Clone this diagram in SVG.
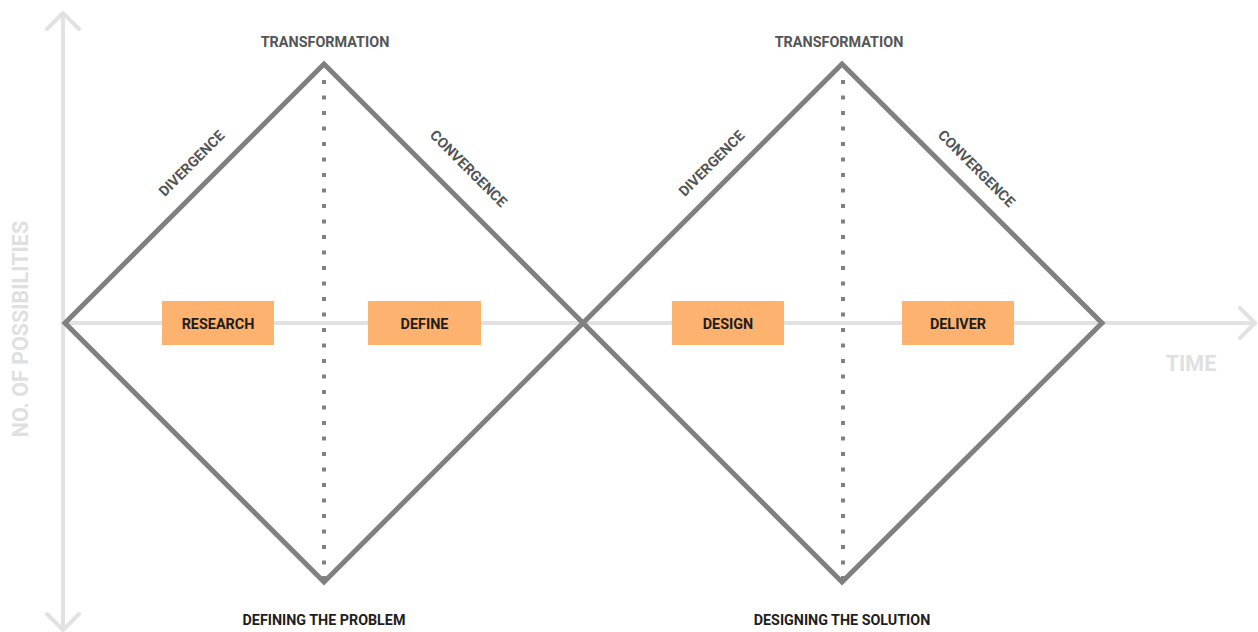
<svg xmlns="http://www.w3.org/2000/svg" width="1258" height="632" viewBox="0 0 1258 632">
  <style>
    .axis { stroke: #e2e2e2; stroke-width: 4; fill: none; stroke-linecap: round; stroke-linejoin: round; }
    .axis-label { font-family: Roboto, "Liberation Sans", sans-serif; font-weight: 700; font-size: 21.5px; fill: #e0e0e0; }
    .diamond { stroke: #808080; stroke-width: 5; fill: none; stroke-linejoin: miter; }
    .divider { stroke: #808080; stroke-width: 4; stroke-dasharray: 4 11.5; fill: none; }
    .phase-label { font-family: Roboto, "Liberation Sans", sans-serif; font-weight: 700; font-size: 14.4px; fill: #555555; text-anchor: middle; }
    .stage rect { fill: #fdb26f; }
    .stage text { font-family: Roboto, "Liberation Sans", sans-serif; font-weight: 700; font-size: 14.4px; fill: #1e1e1e; text-anchor: middle; }
    .caption { font-family: Roboto, "Liberation Sans", sans-serif; font-weight: 700; font-size: 14.3px; fill: #1e1e1e; text-anchor: middle; }
  </style>

  <!-- Axes -->
  <g id="axes">
    <path class="axis" d="M63 14 V628"/>
    <path class="axis" d="M47 29 L63 13 L79 29"/>
    <path class="axis" d="M47 614 L63 630 L79 614"/>
    <path class="axis" d="M65 323 H1255"/>
    <path class="axis" d="M1240 308 L1255 323 L1240 338"/>
    <text class="axis-label" transform="translate(28 329) rotate(-90)" text-anchor="middle">NO. OF POSSIBILITIES</text>
    <text class="axis-label" x="1191" y="371" text-anchor="middle">TIME</text>
  </g>

  <!-- Connectors: diamond outlines and dotted dividers -->
  <g id="connectors">
    <path class="diamond" d="M65 323 L324 64 L583 323 L324 582 Z"/>
    <path class="diamond" d="M583 323 L842 64 L1102 323 L842 582 Z"/>
    <line class="divider" x1="324" y1="80" x2="324" y2="580"/>
    <line class="divider" x1="843" y1="80" x2="843" y2="580"/>
  </g>

  <!-- Phase labels -->
  <g id="labels-problem">
    <text class="phase-label" x="325" y="47">TRANSFORMATION</text>
    <text class="phase-label" transform="translate(195 167) rotate(-45)">DIVERGENCE</text>
    <text class="phase-label" transform="translate(465 172) rotate(45)">CONVERGENCE</text>
  </g>
  <g id="labels-solution">
    <text class="phase-label" x="839" y="47">TRANSFORMATION</text>
    <text class="phase-label" transform="translate(715 167) rotate(-45)">DIVERGENCE</text>
    <text class="phase-label" transform="translate(973 172) rotate(45)">CONVERGENCE</text>
  </g>

  <!-- Stage boxes -->
  <g id="research" class="stage">
    <rect x="162" y="301" width="112" height="44"/>
    <text x="218" y="328.5">RESEARCH</text>
  </g>
  <g id="define" class="stage">
    <rect x="368" y="301" width="113" height="44"/>
    <text x="424.5" y="328.5">DEFINE</text>
  </g>
  <g id="design" class="stage">
    <rect x="672" y="301" width="112" height="44"/>
    <text x="728" y="328.5">DESIGN</text>
  </g>
  <g id="deliver" class="stage">
    <rect x="902" y="301" width="112" height="44"/>
    <text x="958" y="328.5">DELIVER</text>
  </g>

  <!-- Captions -->
  <g id="captions">
    <text class="caption" x="324" y="625">DEFINING THE PROBLEM</text>
    <text class="caption" x="842" y="625">DESIGNING THE SOLUTION</text>
  </g>
</svg>
